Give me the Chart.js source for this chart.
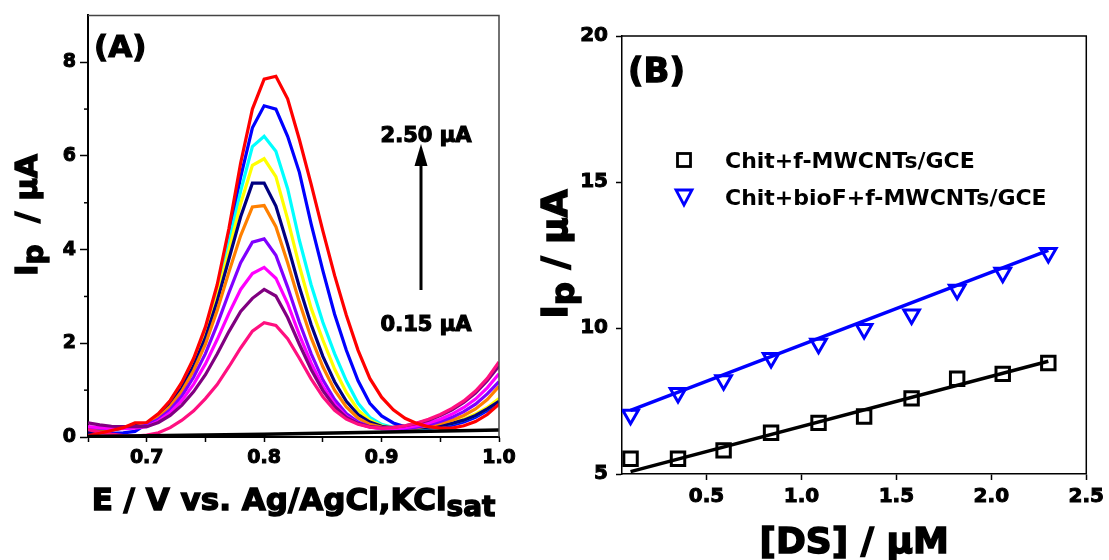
<!DOCTYPE html>
<html>
<head>
<meta charset="utf-8">
<script src="https://cdn.jsdelivr.net/npm/chart.js@4.4.1/dist/chart.umd.min.js"></script>
<style>
  html, body { margin: 0; padding: 0; background: #fff; }
  #wrap { position: relative; width: 1109px; height: 560px; overflow: hidden; }
  #chartA { position: absolute; left: 0; top: 0; }
  #chartB { position: absolute; left: 540px; top: 0; }
</style>
</head>
<body>
<div id="wrap">
  <canvas id="chartA" width="540" height="560"></canvas>
  <canvas id="chartB" width="569" height="560"></canvas>
</div>
<script>
const FONT = "'DejaVu Sans', 'Liberation Sans', sans-serif";

// ---- (A) DPV curves, E / V ----
const potential = [0.65, 0.66, 0.67, 0.68, 0.69, 0.70, 0.71, 0.72, 0.73, 0.74,
  0.75, 0.76, 0.77, 0.78, 0.79, 0.80, 0.81, 0.82, 0.83, 0.84,
  0.85, 0.86, 0.87, 0.88, 0.89, 0.90, 0.91, 0.92, 0.93, 0.94,
  0.95, 0.96, 0.97, 0.98, 0.99, 1.00];

// currents in uA, lowest (0.15) to highest (2.50)
const dpv01 = [0.16, 0.10, 0.06, 0.03, 0.02, 0.04, 0.09, 0.20, 0.36, 0.56,
  0.82, 1.12, 1.50, 1.90, 2.26, 2.44, 2.38, 2.10, 1.68, 1.24,
  0.86, 0.57, 0.38, 0.27, 0.21, 0.19, 0.20, 0.24, 0.30, 0.38,
  0.48, 0.61, 0.77, 0.98, 1.25, 1.60];
const dpv02 = [0.30, 0.26, 0.23, 0.22, 0.22, 0.22, 0.31, 0.46, 0.68, 0.97,
  1.33, 1.77, 2.25, 2.68, 2.96, 3.15, 3.01, 2.55, 1.98, 1.44,
  0.99, 0.65, 0.42, 0.29, 0.22, 0.20, 0.21, 0.24, 0.29, 0.36,
  0.46, 0.58, 0.74, 0.94, 1.20, 1.52];
const dpv03 = [0.22, 0.20, 0.18, 0.18, 0.19, 0.22, 0.34, 0.52, 0.78, 1.13,
  1.56, 2.08, 2.64, 3.15, 3.49, 3.62, 3.39, 2.85, 2.18, 1.58,
  1.08, 0.70, 0.44, 0.29, 0.21, 0.18, 0.18, 0.20, 0.24, 0.30,
  0.38, 0.49, 0.63, 0.81, 1.05, 1.35];
const dpv04 = [0.20, 0.19, 0.18, 0.19, 0.21, 0.25, 0.38, 0.58, 0.88, 1.28,
  1.78, 2.40, 3.08, 3.72, 4.16, 4.23, 3.88, 3.20, 2.45, 1.78,
  1.22, 0.80, 0.50, 0.32, 0.22, 0.18, 0.17, 0.18, 0.21, 0.26,
  0.33, 0.42, 0.54, 0.70, 0.92, 1.18];
const dpv05 = [0.18, 0.17, 0.17, 0.19, 0.22, 0.27, 0.42, 0.65, 0.98, 1.42,
  1.98, 2.70, 3.52, 4.30, 4.91, 4.94, 4.49, 3.72, 2.88, 2.12,
  1.50, 1.00, 0.64, 0.40, 0.27, 0.21, 0.18, 0.18, 0.20, 0.24,
  0.29, 0.36, 0.46, 0.60, 0.80, 1.08];
const dpv06 = [0.10, 0.12, 0.15, 0.19, 0.24, 0.29, 0.45, 0.70, 1.05, 1.52,
  2.12, 2.90, 3.80, 4.70, 5.42, 5.42, 4.93, 4.10, 3.20, 2.40,
  1.72, 1.18, 0.76, 0.48, 0.32, 0.23, 0.19, 0.18, 0.19, 0.21,
  0.24, 0.29, 0.36, 0.46, 0.60, 0.76];
const dpv07 = [0.15, 0.15, 0.17, 0.20, 0.24, 0.29, 0.46, 0.72, 1.08, 1.56,
  2.18, 3.00, 3.98, 4.98, 5.80, 5.94, 5.56, 4.65, 3.65, 2.75,
  2.07, 1.45, 0.95, 0.58, 0.36, 0.24, 0.19, 0.18, 0.19, 0.22,
  0.26, 0.31, 0.38, 0.49, 0.63, 0.82];
const dpv08 = [0.12, 0.13, 0.16, 0.20, 0.24, 0.30, 0.47, 0.74, 1.11, 1.60,
  2.25, 3.10, 4.15, 5.25, 6.20, 6.42, 6.10, 5.30, 4.20, 3.25,
  2.45, 1.78, 1.20, 0.72, 0.42, 0.27, 0.20, 0.18, 0.18, 0.20,
  0.24, 0.29, 0.36, 0.46, 0.60, 0.76];
const dpv09 = [0.10, 0.09, 0.08, 0.09, 0.12, 0.28, 0.48, 0.76, 1.14, 1.64,
  2.30, 3.18, 4.30, 5.55, 6.60, 7.07, 7.00, 6.42, 5.65, 4.55,
  3.55, 2.62, 1.85, 1.20, 0.72, 0.45, 0.30, 0.22, 0.19, 0.19,
  0.21, 0.25, 0.32, 0.42, 0.56, 0.74];
const dpv10 = [0.03, 0.08, 0.14, 0.20, 0.30, 0.31, 0.50, 0.78, 1.17, 1.68,
  2.35, 3.25, 4.45, 5.85, 7.00, 7.64, 7.70, 7.22, 6.35, 5.40,
  4.40, 3.45, 2.60, 1.85, 1.25, 0.85, 0.58, 0.40, 0.29, 0.22,
  0.19, 0.19, 0.24, 0.33, 0.48, 0.70];

// blank electrolyte
const blankE = [0.65, 0.80, 1.00];
const blankI = [0.01, 0.06, 0.15];

const dpvCurves = [dpv01, dpv02, dpv03, dpv04, dpv05, dpv06, dpv07, dpv08, dpv09, dpv10];
const dpvColors = ['#ff1080', '#800080', '#ff00ff', '#8000ff', '#ff8000',
  '#000080', '#ffff00', '#00ffff', '#0000ff', '#ff0000'];

// ---- (B) calibration, Ip vs [DS] ----
const conc = [0.10, 0.35, 0.59, 0.84, 1.09, 1.33, 1.58, 1.82, 2.06, 2.30];
const ipChit = [5.52, 5.52, 5.81, 6.41, 6.75, 6.97, 7.59, 8.26, 8.43, 8.80];
const ipChitBio = [7.03, 7.77, 8.21, 8.97, 9.46, 9.97, 10.46, 11.31, 11.89, 12.57];
const fitConc = [0.10, 2.30];
const fitChit = [5.08, 8.86];
const fitChitBio = [7.18, 12.66];
const legendB = ['Chit+f-MWCNTs/GCE', 'Chit+bioF+f-MWCNTs/GCE'];

const pts = (xs, ys) => xs.map((x, i) => ({ x: x, y: ys[i] }));

// heavy text: fill plus a thin outline of the same colour
function heavyText(ctx, t, x, y) {
  ctx.fillText(t, x, y);
  ctx.strokeText(t, x, y);
}

// draws text with a lowered run for subscripts, centred on x
function drawRuns(ctx, runs, x, y, size) {
  const widths = runs.map(([t, sub]) => {
    ctx.font = `bold ${sub ? size * 0.9 : size}px ${FONT}`;
    return ctx.measureText(t).width;
  });
  let cx = x - widths.reduce((a, b) => a + b, 0) / 2;
  runs.forEach(([t, sub], i) => {
    ctx.font = `bold ${sub ? size * 0.9 : size}px ${FONT}`;
    heavyText(ctx, t, cx, y + (sub ? size * 0.2 : 0));
    cx += widths[i];
  });
}

const panelA = {
  id: 'panelA',
  afterDraw(chart) {
    const { ctx, chartArea: a, scales: { y } } = chart;
    ctx.save();
    // top and right frame
    ctx.strokeStyle = '#444';
    ctx.lineWidth = 1.5;
    ctx.beginPath();
    ctx.moveTo(a.left, a.top);
    ctx.lineTo(a.right, a.top);
    ctx.lineTo(a.right, a.bottom);
    ctx.stroke();
    // minor ticks on the current axis
    ctx.strokeStyle = '#000';
    [1, 3, 5, 7].forEach(v => {
      const py = y.getPixelForValue(v);
      ctx.beginPath();
      ctx.moveTo(a.left, py);
      ctx.lineTo(a.left - 4, py);
      ctx.stroke();
    });
    ctx.fillStyle = '#000';
    ctx.lineWidth = 1.2;
    ctx.textAlign = 'left';
    ctx.textBaseline = 'alphabetic';
    ctx.font = `bold 31px ${FONT}`;
    heavyText(ctx, '(A)', a.left + 6, a.top + 42);
    ctx.font = `bold 21px ${FONT}`;
    ctx.textAlign = 'center';
    heavyText(ctx, '2.50 \u00b5A', 426, 142);
    heavyText(ctx, '0.15 \u00b5A', 426, 331);
    // arrow
    ctx.lineWidth = 3;
    ctx.beginPath();
    ctx.moveTo(421, 290);
    ctx.lineTo(421, 162);
    ctx.stroke();
    ctx.beginPath();
    ctx.moveTo(421, 144);
    ctx.lineTo(427.5, 166);
    ctx.lineTo(414.5, 166);
    ctx.closePath();
    ctx.fill();
    // axis titles
    ctx.lineWidth = 1.4;
    ctx.textAlign = 'left';
    drawRuns(ctx, [['E / V vs. Ag/AgCl,KCl', false], ['sat', true]], (a.left + a.right) / 2, 510, 31);
    ctx.translate(37, 215);
    ctx.rotate(-Math.PI / 2);
    drawRuns(ctx, [['I', false], ['p', true], ['  / \u00b5A', false]], 0, 0, 31);
    ctx.restore();
  }
};

const panelB = {
  id: 'panelB',
  afterDraw(chart) {
    const { ctx, chartArea: a } = chart;
    ctx.save();
    ctx.strokeStyle = '#000';
    ctx.lineWidth = 1.5;
    ctx.beginPath();
    ctx.moveTo(a.left, a.top);
    ctx.lineTo(a.right, a.top);
    ctx.lineTo(a.right, a.bottom);
    ctx.stroke();
    ctx.fillStyle = '#000';
    ctx.textAlign = 'left';
    ctx.textBaseline = 'alphabetic';
    ctx.lineWidth = 1.3;
    ctx.font = `bold 34px ${FONT}`;
    heavyText(ctx, '(B)', a.left + 6, 82);
    // legend
    const mx = 144, tx = 185;
    ctx.lineWidth = 2.8;
    ctx.strokeRect(mx - 6.5, 160 - 6.5, 13, 13);
    ctx.strokeStyle = '#0000ff';
    ctx.beginPath();
    ctx.moveTo(mx - 8, 190);
    ctx.lineTo(mx + 8, 190);
    ctx.lineTo(mx, 205);
    ctx.closePath();
    ctx.stroke();
    ctx.font = `bold 22px ${FONT}`;
    ctx.fillText(legendB[0], tx, 168);
    ctx.fillText(legendB[1], tx, 205);
    // axis titles
    ctx.strokeStyle = '#000';
    ctx.lineWidth = 1.5;
    drawRuns(ctx, [['[DS] / \u00b5M', false]], (a.left + a.right) / 2, 553, 36);
    ctx.translate(27, 254);
    ctx.rotate(-Math.PI / 2);
    drawRuns(ctx, [['I', false], ['p', true], [' / \u00b5A', false]], 0, 0, 36);
    ctx.restore();
  }
};

const tickFont = size => ({ family: FONT, size: size, weight: 'bold' });

// ---------- chart A ----------
const dsA = dpvCurves.map((vals, i) => ({
  data: pts(potential, vals),
  borderColor: dpvColors[i],
  borderWidth: 3.2,
  pointRadius: 0,
  fill: false,
  tension: 0,
  order: i === dpvCurves.length - 1 ? -1 : i
}));
dsA.push({
  data: pts(blankE, blankI),
  borderColor: '#000',
  borderWidth: 3.5,
  pointRadius: 0,
  fill: false,
  order: -2
});

new Chart(document.getElementById('chartA'), {
  type: 'line',
  data: { datasets: dsA },
  options: {
    responsive: false,
    animation: false,
    events: [],
    layout: { padding: { left: 0, top: 15, right: 41, bottom: 0 } },
    plugins: { legend: { display: false }, tooltip: { enabled: false } },
    scales: {
      x: {
        type: 'linear',
        min: 0.65,
        max: 1.0,
        afterFit: s => { s.height = 123; },
        ticks: {
          stepSize: 0.05,
          autoSkip: false,
          maxRotation: 0,
          padding: 5,
          color: '#000',
          textStrokeColor: '#000',
          textStrokeWidth: 1,
          font: tickFont(19),
          callback: v => (Math.round(v * 100) % 10 === 0 ? v.toFixed(1) : '')
        },
        grid: { drawOnChartArea: false, tickLength: 5, tickColor: '#000', tickWidth: 1.5 },
        border: { color: '#000', width: 2 }
      },
      y: {
        min: 0,
        max: 9,
        afterFit: s => { s.width = 88; },
        ticks: {
          stepSize: 2,
          includeBounds: false,
          padding: 4,
          color: '#000',
          textStrokeColor: '#000',
          textStrokeWidth: 1,
          font: tickFont(19)
        },
        grid: { drawOnChartArea: false, tickLength: 8, tickColor: '#000', tickWidth: 1.5 },
        border: { color: '#000', width: 2 }
      }
    }
  },
  plugins: [panelA]
});

// ---------- chart B ----------
new Chart(document.getElementById('chartB'), {
  type: 'scatter',
  data: {
    datasets: [
      {
        label: legendB[0],
        data: pts(conc, ipChit),
        pointStyle: 'rect',
        pointRadius: 9.5,
        pointBorderWidth: 3,
        borderColor: '#000',
        backgroundColor: 'rgba(0,0,0,0)'
      },
      {
        label: legendB[1],
        data: pts(conc, ipChitBio),
        pointStyle: 'triangle',
        pointRotation: 180,
        pointRadius: 9,
        pointBorderWidth: 3,
        borderColor: '#0000ff',
        backgroundColor: 'rgba(0,0,0,0)'
      },
      {
        data: pts(fitConc, fitChit),
        showLine: true,
        pointRadius: 0,
        borderColor: '#000',
        borderWidth: 3.5
      },
      {
        data: pts(fitConc, fitChitBio),
        showLine: true,
        pointRadius: 0,
        borderColor: '#0000ff',
        borderWidth: 3.5
      }
    ]
  },
  options: {
    responsive: false,
    animation: false,
    events: [],
    layout: { padding: { left: 0, top: 36, right: 20, bottom: 0 } },
    plugins: { legend: { display: false }, tooltip: { enabled: false } },
    scales: {
      x: {
        type: 'linear',
        min: 0.055,
        max: 2.5,
        afterFit: s => { s.height = 86; },
        ticks: {
          stepSize: 0.5,
          includeBounds: false,
          maxRotation: 0,
          padding: 5,
          color: '#000',
          textStrokeColor: '#000',
          textStrokeWidth: 1,
          font: tickFont(20),
          callback: v => v.toFixed(1)
        },
        grid: { drawOnChartArea: false, tickLength: 6, tickColor: '#000', tickWidth: 1.5 },
        border: { color: '#000', width: 1.5 }
      },
      y: {
        min: 5,
        max: 20,
        afterFit: s => { s.width = 82; },
        ticks: {
          stepSize: 5,
          padding: 8,
          color: '#000',
          textStrokeColor: '#000',
          textStrokeWidth: 1,
          font: tickFont(20)
        },
        grid: { drawOnChartArea: false, tickLength: 6, tickColor: '#000', tickWidth: 1.5 },
        border: { color: '#000', width: 1.5 }
      }
    }
  },
  plugins: [panelB]
});
</script>
</body>
</html>
